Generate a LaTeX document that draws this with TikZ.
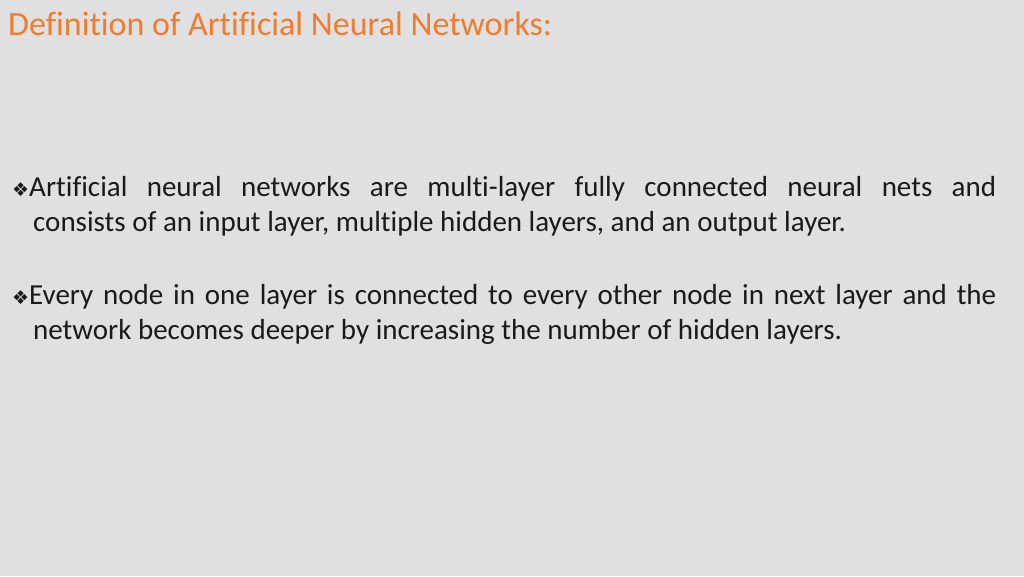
\documentclass[tikz,border=0pt]{standalone}
\usepackage{fontspec}
\setmainfont{Carlito}[Ligatures=NoCommon]
\newfontfamily\symfont{DejaVu Sans}
\definecolor{bg}{HTML}{E1E0E0}
\definecolor{ttl}{HTML}{ED7D31}
\definecolor{txt}{HTML}{1A1A1A}
\newcommand{\bul}{{\symfont\fontsize{19}{20}\selectfont ❖}}
\tikzset{line/.style={anchor=base west,inner sep=0pt,font=\fontsize{29}{35}\selectfont,text=txt}}
\begin{document}
\begin{tikzpicture}[x=1pt,y=-1pt]
\fill[bg] (0,0) rectangle (1024,576);
\useasboundingbox (0,0) rectangle (1024,576);
\node[anchor=base west,inner sep=0pt,text=ttl,font=\fontsize{34}{40}\selectfont] (title) at (8,35) {Definition of Artificial Neural Networks:};
\node[line] (a1) at (12,196) {\makebox[984pt][s]{\bul Artificial neural networks are multi-layer fully connected neural nets and}};
\node[line] (a2) at (33,231) {consists of an input layer, multiple hidden layers, and an output layer.};
\node[line] (b1) at (12,304) {\makebox[984pt][s]{\bul Every node in one layer is connected to every other node in next layer and the}};
\node[line] (b2) at (33,339) {network becomes deeper by increasing the number of hidden layers.};
\end{tikzpicture}
\end{document}
